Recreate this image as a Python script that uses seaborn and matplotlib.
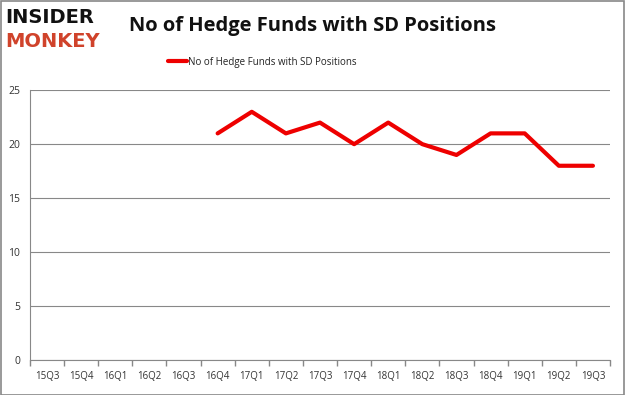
import numpy as np
import pandas as pd
import matplotlib
matplotlib.use("Agg")
import matplotlib.pyplot as plt
import seaborn as sns

quarters = ["15Q3", "15Q4", "16Q1", "16Q2", "16Q3", "16Q4", "17Q1", "17Q2", "17Q3",
            "17Q4", "18Q1", "18Q2", "18Q3", "18Q4", "19Q1", "19Q2", "19Q3"]
data_quarters = ["16Q4", "17Q1", "17Q2", "17Q3", "17Q4", "18Q1", "18Q2", "18Q3",
                 "18Q4", "19Q1", "19Q2", "19Q3"]
funds = [21, 23, 21, 22, 20, 22, 20, 19, 21, 21, 18, 18]
y_ticks = [0, 5, 10, 15, 20, 25]
series_name = "No of Hedge Funds with SD Positions"

sns.set_theme(style="white")
plt.rcParams['font.family'] = ['Open Sans', 'DejaVu Sans']

df = pd.DataFrame({"pos": [quarters.index(q) for q in data_quarters], "funds": funds})

fig = plt.figure(figsize=(6.25, 3.95), dpi=100)
ax = fig.add_axes([0.048, 0.0886, 0.928, 0.683])

sns.lineplot(data=df, x="pos", y="funds", ax=ax, color="#ee0000", linewidth=3,
             label=series_name, legend=False)

ax.set_xlim(-0.5, len(quarters) - 0.5)
ax.set_ylim(0, 25)
ax.set_yticks(y_ticks)
ax.set_yticklabels([str(v) for v in y_ticks], fontsize=7.5, color="#333333")
ax.set_xticks(np.arange(len(quarters)))
ax.set_xticklabels(quarters, fontsize=7, color="#333333")
ax.set_xticks(np.arange(-0.5, len(quarters), 1), minor=True)
ax.tick_params(axis="x", which="major", length=0, pad=8)
ax.tick_params(axis="x", which="minor", length=4, color="#888888", direction="out", bottom=True)
ax.tick_params(axis="y", length=0, pad=7)
ax.yaxis.grid(True, color="#888888", linewidth=0.8)
ax.set_axisbelow(True)
for s in ["top", "right"]:
    ax.spines[s].set_visible(False)
ax.spines["left"].set_color("#888888")
ax.spines["bottom"].set_color("#888888")
ax.spines["left"].set_linewidth(0.8)
ax.spines["bottom"].set_linewidth(0.8)
ax.set_xlabel("")
ax.set_ylabel("")

# legend
leg = fig.legend(handles=ax.get_lines()[:1], labels=[series_name], loc="center",
                 bbox_to_anchor=(0.42, 0.843), frameon=False, fontsize=7,
                 handlelength=2.0, handletextpad=0.1)
for t in leg.get_texts():
    t.set_color("#222222")

fig.text(0.50, 0.935, "No of Hedge Funds with SD Positions", ha="center", va="center",
         fontsize=14.5, fontweight="bold", color="#111111")
fig.text(0.008, 0.955, "INSIDER", ha="left", va="center", fontsize=14, fontweight="heavy",
         color="#111111", family=["DejaVu Sans"])
fig.text(0.008, 0.895, "MONKEY", ha="left", va="center", fontsize=14, fontweight="heavy",
         color="#d0432b", family=["DejaVu Sans"])

border = plt.Rectangle((0.001, 0.001), 0.997, 0.997, transform=fig.transFigure,
                       fill=False, edgecolor="#888888", linewidth=1.2)
fig.patches.append(border)

fig.savefig("out.png", dpi=100, facecolor="white")
